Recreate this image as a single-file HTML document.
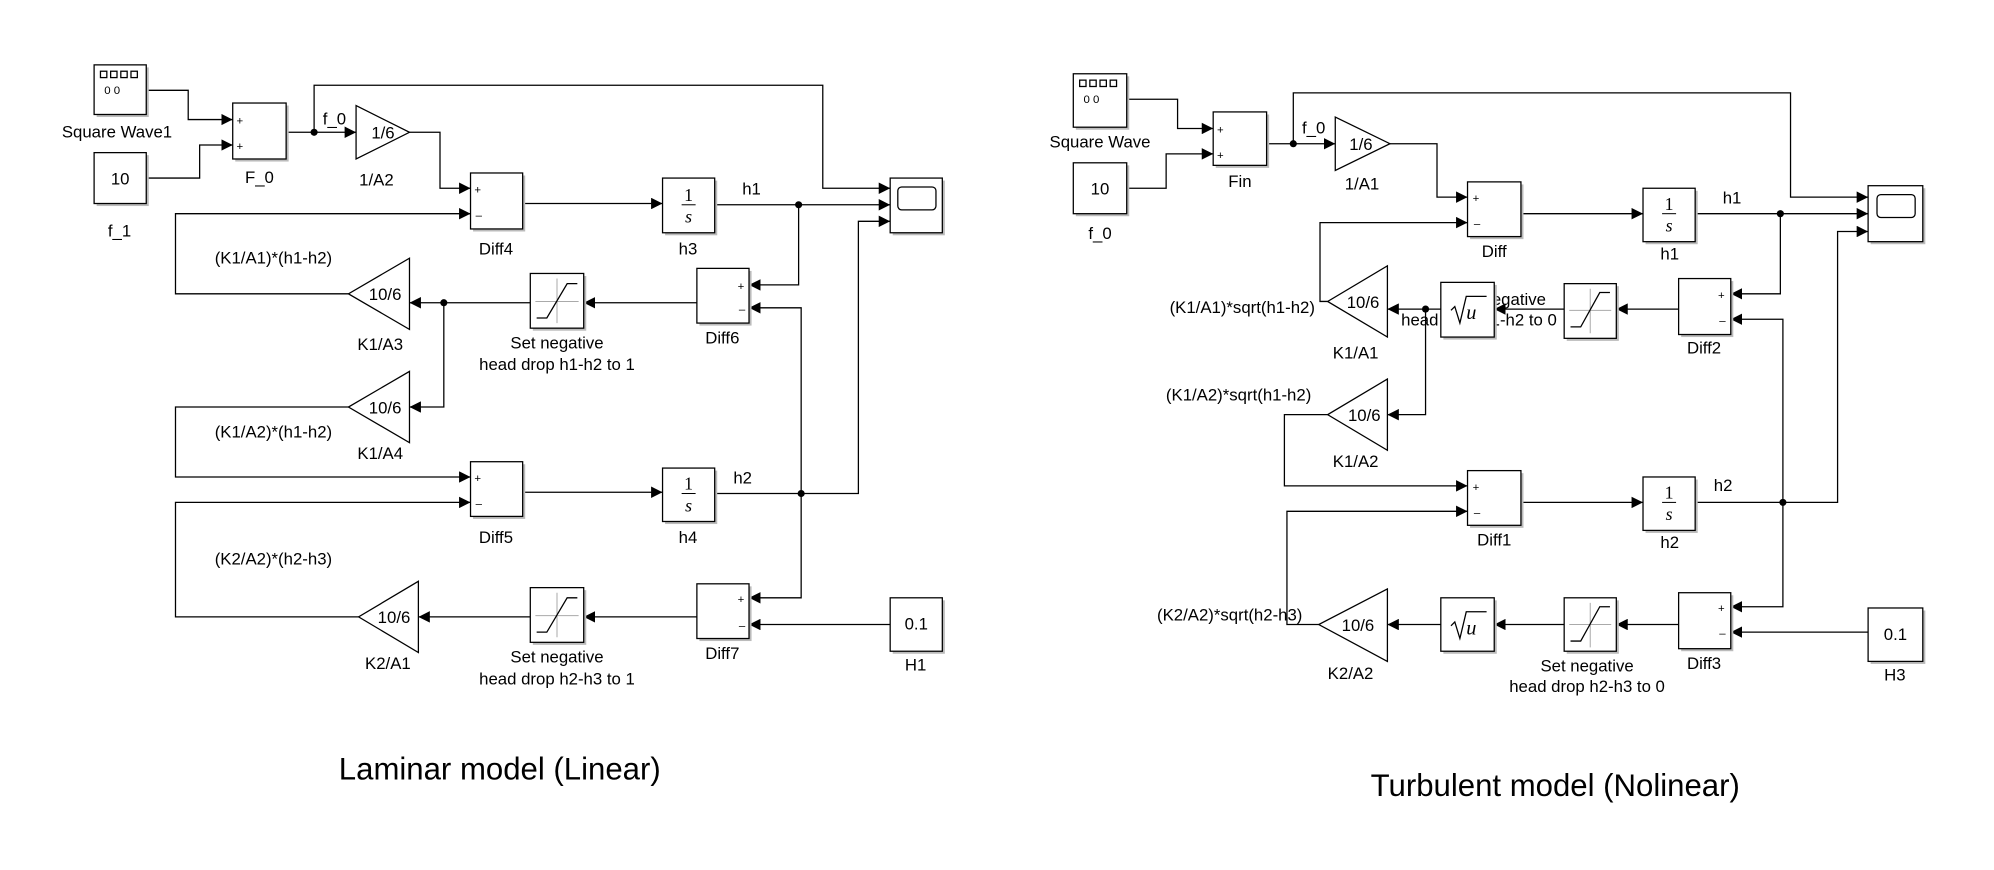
<!DOCTYPE html>
<html><head><meta charset="utf-8"><style>
html,body{margin:0;padding:0;background:#fff;width:1994px;height:870px;overflow:hidden}
svg{display:block}
text{font-family:"Liberation Sans",Arial,sans-serif;font-size:13.2px;fill:#000}
.w{fill:none;stroke:#000;stroke-width:1}
.b{fill:#fff;stroke:#000;stroke-width:1}
.s{fill:#bbb;stroke:none}
.g{stroke:#aaa;stroke-width:0.8;fill:none}
</style></head><body>
<svg width="1994" height="870" viewBox="0 0 1568 684" preserveAspectRatio="none" xmlns="http://www.w3.org/2000/svg">
<defs>
<marker id="a" viewBox="0 0 10 10" refX="10" refY="5" markerWidth="9" markerHeight="9" markerUnits="userSpaceOnUse" orient="auto"><path d="M0,0L10,5L0,10z" fill="#000"/></marker>
</defs>

<!-- ============ LEFT ============ -->
<g>
<path class="w" d="M115,71H148V94H183" marker-end="url(#a)"/>
<path class="w" d="M115,140H157V114H183" marker-end="url(#a)"/>
<path class="w" d="M225,104H280" marker-end="url(#a)"/>
<path class="w" d="M247,104V67H647V148H700" marker-end="url(#a)"/>
<path class="w" d="M322,104H346V148H370" marker-end="url(#a)"/>
<path class="w" d="M411,160H521" marker-end="url(#a)"/>
<path class="w" d="M562,161H700" marker-end="url(#a)"/>
<path class="w" d="M628,161V224H589" marker-end="url(#a)"/>
<path class="w" d="M562,388H675V174H700" marker-end="url(#a)"/>
<path class="w" d="M630,388V242H589" marker-end="url(#a)"/>
<path class="w" d="M630,388V470H589" marker-end="url(#a)"/>
<path class="w" d="M548,238H459" marker-end="url(#a)"/>
<path class="w" d="M417,238H322" marker-end="url(#a)"/>
<path class="w" d="M349,238V320H322" marker-end="url(#a)"/>
<path class="w" d="M274,231H138V168H370" marker-end="url(#a)"/>
<path class="w" d="M274,320H138V375H370" marker-end="url(#a)"/>
<path class="w" d="M411,387H521" marker-end="url(#a)"/>
<path class="w" d="M282,485H138V395H370" marker-end="url(#a)"/>
<path class="w" d="M548,485H459" marker-end="url(#a)"/>
<path class="w" d="M417,485H329" marker-end="url(#a)"/>
<path class="w" d="M700,491H589" marker-end="url(#a)"/>
<circle cx="247" cy="104" r="2.8"/><circle cx="628" cy="161" r="2.8"/><circle cx="630" cy="388" r="2.8"/><circle cx="349" cy="238" r="2.8"/>

<rect class="s" x="76" y="53" width="41" height="39"/><rect class="b" x="74" y="51" width="41" height="39"/>
<g class="w" stroke-width="0.8"><rect x="79" y="56" width="5" height="5"/><rect x="87" y="56" width="5" height="5"/><rect x="95" y="56" width="5" height="5"/><rect x="103" y="56" width="5" height="5"/></g>
<text x="82" y="74" style="font-size:9px">0 0</text>
<text x="92" y="108" text-anchor="middle">Square Wave1</text>
<rect class="s" x="76" y="122" width="41" height="40"/><rect class="b" x="74" y="120" width="41" height="40"/>
<text x="94.5" y="145" text-anchor="middle">10</text>
<text x="94" y="186" text-anchor="middle">f_1</text>
<rect class="s" x="185" y="83" width="42" height="44"/><rect class="b" x="183" y="81" width="42" height="44"/>
<text x="186" y="98" style="font-size:9px">+</text><text x="186" y="118" style="font-size:9px">+</text>
<text x="204" y="144" text-anchor="middle">F_0</text>
<text x="263" y="98" text-anchor="middle">f_0</text>
<path d="M280,83L322,104L280,125z" class="b"/>
<text x="292" y="109">1/6</text>
<text x="296" y="146" text-anchor="middle">1/A2</text>
<rect class="s" x="372" y="138" width="41" height="44"/><rect class="b" x="370" y="136" width="41" height="44"/>
<text x="373" y="152" style="font-size:9px">+</text><text x="374" y="172" style="font-size:9px">–</text>
<text x="390" y="200" text-anchor="middle">Diff4</text>
<rect class="s" x="523" y="142" width="41" height="43"/><rect class="b" x="521" y="140" width="41" height="43"/>
<text x="541.5" y="158" text-anchor="middle" style="font-family:'Liberation Serif',serif;font-size:14px">1</text>
<line x1="536" y1="161" x2="547" y2="161" stroke="#000" stroke-width="0.8"/>
<text x="541.5" y="175" text-anchor="middle" style="font-family:'Liberation Serif',serif;font-size:14px;font-style:italic">s</text>
<text x="541" y="200" text-anchor="middle">h3</text>
<text x="591" y="153" text-anchor="middle">h1</text>
<rect class="s" x="702" y="142" width="41" height="43"/><rect class="b" x="700" y="140" width="41" height="43"/>
<rect x="706" y="147" width="30" height="18" rx="3" class="w"/>
<rect class="s" x="550" y="213" width="41" height="43"/><rect class="b" x="548" y="211" width="41" height="43"/>
<text x="580" y="228" style="font-size:9px">+</text><text x="581" y="246" style="font-size:9px">–</text>
<text x="568" y="270" text-anchor="middle">Diff6</text>
<rect class="s" x="419" y="217" width="42" height="43"/><rect class="b" x="417" y="215" width="42" height="43"/>
<path class="g" d="M438,219V254M421,237H455"/><path class="w" d="M422,250H430L446,223H454"/>
<text x="438" y="274" text-anchor="middle">Set negative</text>
<text x="438" y="291" text-anchor="middle">head drop h1-h2 to 1</text>
<path d="M322,203L322,259L274,231z" class="b"/>
<text x="290" y="236">10/6</text>
<text x="299" y="275" text-anchor="middle">K1/A3</text>
<text x="215" y="207" text-anchor="middle">(K1/A1)*(h1-h2)</text>
<path d="M322,292L322,348L274,320z" class="b"/>
<text x="290" y="325">10/6</text>
<text x="299" y="361" text-anchor="middle">K1/A4</text>
<text x="215" y="344" text-anchor="middle">(K1/A2)*(h1-h2)</text>
<rect class="s" x="372" y="365" width="41" height="43"/><rect class="b" x="370" y="363" width="41" height="43"/>
<text x="373" y="379" style="font-size:9px">+</text><text x="374" y="399" style="font-size:9px">–</text>
<text x="390" y="427" text-anchor="middle">Diff5</text>
<rect class="s" x="523" y="370" width="41" height="42"/><rect class="b" x="521" y="368" width="41" height="42"/>
<text x="541.5" y="385" text-anchor="middle" style="font-family:'Liberation Serif',serif;font-size:14px">1</text>
<line x1="536" y1="388" x2="547" y2="388" stroke="#000" stroke-width="0.8"/>
<text x="541.5" y="402" text-anchor="middle" style="font-family:'Liberation Serif',serif;font-size:14px;font-style:italic">s</text>
<text x="541" y="427" text-anchor="middle">h4</text>
<text x="584" y="380" text-anchor="middle">h2</text>
<text x="215" y="444" text-anchor="middle">(K2/A2)*(h2-h3)</text>
<path d="M329,457L329,513L282,485z" class="b"/>
<text x="297" y="490">10/6</text>
<text x="305" y="526" text-anchor="middle">K2/A1</text>
<rect class="s" x="419" y="464" width="42" height="43"/><rect class="b" x="417" y="462" width="42" height="43"/>
<path class="g" d="M438,466V501M421,484H455"/><path class="w" d="M422,497H430L446,470H454"/>
<text x="438" y="521" text-anchor="middle">Set negative</text>
<text x="438" y="538" text-anchor="middle">head drop h2-h3 to 1</text>
<rect class="s" x="550" y="461" width="41" height="43"/><rect class="b" x="548" y="459" width="41" height="43"/>
<text x="580" y="474" style="font-size:9px">+</text><text x="581" y="495" style="font-size:9px">–</text>
<text x="568" y="518" text-anchor="middle">Diff7</text>
<rect class="s" x="702" y="472" width="41" height="42"/><rect class="b" x="700" y="470" width="41" height="42"/>
<text x="720.5" y="495" text-anchor="middle">0.1</text>
<text x="720" y="527" text-anchor="middle">H1</text>
<text x="393" y="613" text-anchor="middle" style="font-size:24.5px">Laminar model (Linear)</text>
</g>

<!-- ============ RIGHT ============ -->
<g>
<text x="1179" y="240" text-anchor="middle">Set negative</text>
<text x="1163" y="256" text-anchor="middle">head drop h1-h2 to 0</text>

<path class="w" d="M886,78H926V101H954" marker-end="url(#a)"/>
<path class="w" d="M886,148H917V121H954" marker-end="url(#a)"/>
<path class="w" d="M996,113H1050" marker-end="url(#a)"/>
<path class="w" d="M1017,113V73H1408V155H1469" marker-end="url(#a)"/>
<path class="w" d="M1093,113H1130V155H1154" marker-end="url(#a)"/>
<path class="w" d="M1196,168H1292" marker-end="url(#a)"/>
<path class="w" d="M1333,168H1469" marker-end="url(#a)"/>
<path class="w" d="M1400,168V231H1361" marker-end="url(#a)"/>
<path class="w" d="M1333,395H1445V182H1469" marker-end="url(#a)"/>
<path class="w" d="M1402,395V251H1361" marker-end="url(#a)"/>
<path class="w" d="M1402,395V477H1361" marker-end="url(#a)"/>
<path class="w" d="M1320,243H1271" marker-end="url(#a)"/>
<path class="w" d="M1230,243H1175" marker-end="url(#a)"/>
<path class="w" d="M1133,243H1091" marker-end="url(#a)"/>
<path class="w" d="M1121,243V326H1091" marker-end="url(#a)"/>
<path class="w" d="M1044,237H1038V175H1154" marker-end="url(#a)"/>
<path class="w" d="M1044,326H1010V382H1154" marker-end="url(#a)"/>
<path class="w" d="M1196,395H1292" marker-end="url(#a)"/>
<path class="w" d="M1037,491H1012V402H1154" marker-end="url(#a)"/>
<path class="w" d="M1320,491H1271" marker-end="url(#a)"/>
<path class="w" d="M1230,491H1175" marker-end="url(#a)"/>
<path class="w" d="M1133,491H1091" marker-end="url(#a)"/>
<path class="w" d="M1469,497H1361" marker-end="url(#a)"/>
<circle cx="1017" cy="113" r="2.8"/><circle cx="1400" cy="168" r="2.8"/><circle cx="1402" cy="395" r="2.8"/><circle cx="1121" cy="243" r="2.8"/>

<rect class="s" x="846" y="60" width="42" height="42"/><rect class="b" x="844" y="58" width="42" height="42"/>
<g class="w" stroke-width="0.8"><rect x="849" y="63" width="5" height="5"/><rect x="857" y="63" width="5" height="5"/><rect x="865" y="63" width="5" height="5"/><rect x="873" y="63" width="5" height="5"/></g>
<text x="852" y="81" style="font-size:9px">0 0</text>
<text x="865" y="116" text-anchor="middle">Square Wave</text>
<rect class="s" x="846" y="130" width="42" height="40"/><rect class="b" x="844" y="128" width="42" height="40"/>
<text x="865" y="153" text-anchor="middle">10</text>
<text x="865" y="188" text-anchor="middle">f_0</text>
<rect class="s" x="956" y="90" width="42" height="42"/><rect class="b" x="954" y="88" width="42" height="42"/>
<text x="957" y="105" style="font-size:9px">+</text><text x="957" y="125" style="font-size:9px">+</text>
<text x="975" y="147" text-anchor="middle">Fin</text>
<text x="1033" y="105" text-anchor="middle">f_0</text>
<path d="M1050,92L1093,113L1050,134z" class="b"/>
<text x="1061" y="118">1/6</text>
<text x="1071" y="149" text-anchor="middle">1/A1</text>
<rect class="s" x="1156" y="145" width="42" height="43"/><rect class="b" x="1154" y="143" width="42" height="43"/>
<text x="1158" y="159" style="font-size:9px">+</text><text x="1159" y="179" style="font-size:9px">–</text>
<text x="1175" y="202" text-anchor="middle">Diff</text>
<rect class="s" x="1294" y="150" width="41" height="42"/><rect class="b" x="1292" y="148" width="41" height="42"/>
<text x="1312.5" y="165" text-anchor="middle" style="font-family:'Liberation Serif',serif;font-size:14px">1</text>
<line x1="1307" y1="168" x2="1318" y2="168" stroke="#000" stroke-width="0.8"/>
<text x="1312.5" y="182" text-anchor="middle" style="font-family:'Liberation Serif',serif;font-size:14px;font-style:italic">s</text>
<text x="1313" y="204" text-anchor="middle">h1</text>
<text x="1362" y="160" text-anchor="middle">h1</text>
<rect class="s" x="1471" y="148" width="43" height="44"/><rect class="b" x="1469" y="146" width="43" height="44"/>
<rect x="1476" y="153" width="30" height="18" rx="3" class="w"/>
<rect class="s" x="1322" y="221" width="41" height="44"/><rect class="b" x="1320" y="219" width="41" height="44"/>
<text x="1351" y="235" style="font-size:9px">+</text><text x="1352" y="255" style="font-size:9px">–</text>
<text x="1340" y="278" text-anchor="middle">Diff2</text>
<rect class="s" x="1232" y="225" width="41" height="43"/><rect class="b" x="1230" y="223" width="41" height="43"/>
<path class="g" d="M1250.5,227V262M1234,244H1267"/><path class="w" d="M1235,257H1243L1258,230H1266"/>
<rect class="s" x="1135" y="224" width="42" height="43"/><rect class="b" x="1133" y="222" width="42" height="43"/>
<path class="w" d="M1141,244L1144,241L1148,254L1153,233H1169" stroke-width="0.9"/>
<text x="1153" y="251" style="font-family:'Liberation Serif',serif;font-size:16px;font-style:italic">u</text>
<path d="M1091,209L1091,265L1044,237z" class="b"/>
<text x="1059" y="242">10/6</text>
<text x="1066" y="282" text-anchor="middle">K1/A1</text>
<text x="1034" y="246" text-anchor="end">(K1/A1)*sqrt(h1-h2)</text>
<path d="M1091,298L1091,354L1044,326z" class="b"/>
<text x="1060" y="331">10/6</text>
<text x="1066" y="367" text-anchor="middle">K1/A2</text>
<text x="974" y="315" text-anchor="middle">(K1/A2)*sqrt(h1-h2)</text>
<rect class="s" x="1156" y="372" width="42" height="43"/><rect class="b" x="1154" y="370" width="42" height="43"/>
<text x="1158" y="386" style="font-size:9px">+</text><text x="1159" y="406" style="font-size:9px">–</text>
<text x="1175" y="429" text-anchor="middle">Diff1</text>
<rect class="s" x="1294" y="377" width="41" height="42"/><rect class="b" x="1292" y="375" width="41" height="42"/>
<text x="1312.5" y="392" text-anchor="middle" style="font-family:'Liberation Serif',serif;font-size:14px">1</text>
<line x1="1307" y1="395" x2="1318" y2="395" stroke="#000" stroke-width="0.8"/>
<text x="1312.5" y="409" text-anchor="middle" style="font-family:'Liberation Serif',serif;font-size:14px;font-style:italic">s</text>
<text x="1313" y="431" text-anchor="middle">h2</text>
<text x="1355" y="386" text-anchor="middle">h2</text>
<path d="M1091,463L1091,520L1037,491z" class="b"/>
<text x="1055" y="496">10/6</text>
<text x="1062" y="534" text-anchor="middle">K2/A2</text>
<text x="967" y="488" text-anchor="middle">(K2/A2)*sqrt(h2-h3)</text>
<rect class="s" x="1135" y="472" width="42" height="42"/><rect class="b" x="1133" y="470" width="42" height="42"/>
<path class="w" d="M1141,492L1144,489L1148,502L1153,481H1169" stroke-width="0.9"/>
<text x="1153" y="499" style="font-family:'Liberation Serif',serif;font-size:16px;font-style:italic">u</text>
<rect class="s" x="1232" y="472" width="41" height="42"/><rect class="b" x="1230" y="470" width="41" height="42"/>
<path class="g" d="M1250.5,474V509M1234,491H1267"/><path class="w" d="M1235,504H1243L1258,477H1266"/>
<text x="1248" y="528" text-anchor="middle">Set negative</text>
<text x="1248" y="544" text-anchor="middle">head drop h2-h3 to 0</text>
<rect class="s" x="1322" y="468" width="41" height="44"/><rect class="b" x="1320" y="466" width="41" height="44"/>
<text x="1351" y="481" style="font-size:9px">+</text><text x="1352" y="501" style="font-size:9px">–</text>
<text x="1340" y="526" text-anchor="middle">Diff3</text>
<rect class="s" x="1471" y="480" width="43" height="42"/><rect class="b" x="1469" y="478" width="43" height="42"/>
<text x="1490.5" y="503" text-anchor="middle">0.1</text>
<text x="1490" y="535" text-anchor="middle">H3</text>
<text x="1223" y="626" text-anchor="middle" style="font-size:24.5px">Turbulent model (Nolinear)</text>
</g>
</svg>
</body></html>
